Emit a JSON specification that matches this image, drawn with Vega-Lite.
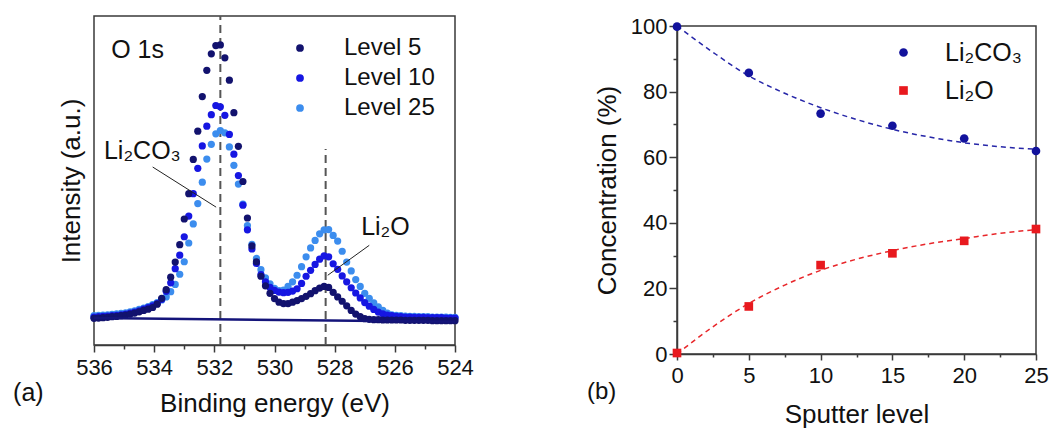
{
  "$schema": "https://vega.github.io/schema/vega-lite/v6.json",
  "padding": {"left": 12, "top": 14, "right": 0, "bottom": 0},
  "background": "white",
  "resolve": {"scale": {"color": "independent", "shape": "independent"}, "legend": {"color": "independent", "shape": "independent"}},
  "config": {
    "font": "Liberation Sans",
    "view": {"stroke": "#3a3a3a", "strokeWidth": 1.5},
    "axis": {
      "labelFont": "Liberation Sans", "titleFont": "Liberation Sans",
      "labelFontSize": 22, "titleFontSize": 26, "titleFontWeight": "normal",
      "labelColor": "#111", "titleColor": "#111",
      "domainColor": "#3a3a3a", "tickColor": "#3a3a3a", "domainWidth": 1.5, "tickWidth": 1.5,
      "grid": false, "labelFlush": false, "labelOverlap": false
    },
    "legend": {"labelFont": "Liberation Sans", "labelColor": "#111"},
    "text": {"font": "Liberation Sans", "color": "#111"}
  },
  "datasets": {
    "xps": [
      {"e":536.00,"Level 5":8.1,"Level 10":8.5,"Level 25":8.9},
      {"e":535.85,"Level 5":8.2,"Level 10":8.6,"Level 25":9.0},
      {"e":535.70,"Level 5":8.3,"Level 10":8.7,"Level 25":9.1},
      {"e":535.55,"Level 5":8.4,"Level 10":8.8,"Level 25":9.2},
      {"e":535.40,"Level 5":8.6,"Level 10":8.9,"Level 25":9.3},
      {"e":535.25,"Level 5":8.7,"Level 10":9.0,"Level 25":9.5},
      {"e":535.10,"Level 5":8.9,"Level 10":9.2,"Level 25":9.6},
      {"e":534.95,"Level 5":9.1,"Level 10":9.4,"Level 25":9.8},
      {"e":534.80,"Level 5":9.4,"Level 10":9.7,"Level 25":10.1},
      {"e":534.65,"Level 5":9.7,"Level 10":10.0,"Level 25":10.4},
      {"e":534.50,"Level 5":10.1,"Level 10":10.4,"Level 25":10.8},
      {"e":534.35,"Level 5":10.5,"Level 10":10.9,"Level 25":11.2},
      {"e":534.20,"Level 5":10.9,"Level 10":11.4,"Level 25":11.7},
      {"e":534.05,"Level 5":11.4,"Level 10":11.9,"Level 25":12.3},
      {"e":533.90,"Level 5":12.4,"Level 10":12.6,"Level 25":12.9},
      {"e":533.75,"Level 5":14.2,"Level 10":13.9,"Level 25":13.7},
      {"e":533.60,"Level 5":16.8,"Level 10":16.3,"Level 25":14.6},
      {"e":533.45,"Level 5":20.6,"Level 10":18.9,"Level 25":16.2},
      {"e":533.30,"Level 5":25.2,"Level 10":23.2,"Level 25":18.4},
      {"e":533.15,"Level 5":30.5,"Level 10":27.3,"Level 25":21.5},
      {"e":533.00,"Level 5":38.3,"Level 10":32.9,"Level 25":25.3},
      {"e":532.85,"Level 5":46.0,"Level 10":39.2,"Level 25":31.0},
      {"e":532.70,"Level 5":56.4,"Level 10":46.0,"Level 25":36.8},
      {"e":532.55,"Level 5":65.0,"Level 10":53.7,"Level 25":43.0},
      {"e":532.40,"Level 5":75.5,"Level 10":60.5,"Level 25":49.5},
      {"e":532.25,"Level 5":83.5,"Level 10":66.5,"Level 25":56.5},
      {"e":532.10,"Level 5":88.5,"Level 10":70.0,"Level 25":61.0},
      {"e":531.95,"Level 5":91.0,"Level 10":72.8,"Level 25":64.2},
      {"e":531.80,"Level 5":91.2,"Level 10":72.4,"Level 25":65.2},
      {"e":531.65,"Level 5":87.3,"Level 10":69.8,"Level 25":64.5},
      {"e":531.50,"Level 5":80.5,"Level 10":64.0,"Level 25":60.2},
      {"e":531.35,"Level 5":70.6,"Level 10":58.0,"Level 25":54.6},
      {"e":531.20,"Level 5":60.4,"Level 10":51.5,"Level 25":48.9},
      {"e":531.05,"Level 5":49.7,"Level 10":42.5,"Level 25":42.8},
      {"e":530.90,"Level 5":38.6,"Level 10":35.0,"Level 25":36.3},
      {"e":530.75,"Level 5":30.1,"Level 10":29.2,"Level 25":30.6},
      {"e":530.60,"Level 5":25.3,"Level 10":24.8,"Level 25":26.3},
      {"e":530.45,"Level 5":20.9,"Level 10":21.4,"Level 25":22.9},
      {"e":530.30,"Level 5":18.0,"Level 10":19.2,"Level 25":20.4},
      {"e":530.15,"Level 5":15.7,"Level 10":17.5,"Level 25":18.6},
      {"e":530.00,"Level 5":14.1,"Level 10":16.6,"Level 25":17.2},
      {"e":529.85,"Level 5":13.0,"Level 10":16.1,"Level 25":16.5},
      {"e":529.70,"Level 5":12.6,"Level 10":15.9,"Level 25":16.7},
      {"e":529.55,"Level 5":12.6,"Level 10":16.0,"Level 25":17.8},
      {"e":529.40,"Level 5":13.0,"Level 10":16.4,"Level 25":19.2},
      {"e":529.25,"Level 5":13.5,"Level 10":17.1,"Level 25":21.2},
      {"e":529.10,"Level 5":14.1,"Level 10":18.7,"Level 25":23.8},
      {"e":528.95,"Level 5":14.8,"Level 10":20.9,"Level 25":26.8},
      {"e":528.80,"Level 5":15.6,"Level 10":22.7,"Level 25":29.5},
      {"e":528.65,"Level 5":16.5,"Level 10":24.5,"Level 25":31.8},
      {"e":528.50,"Level 5":17.3,"Level 10":26.1,"Level 25":33.8},
      {"e":528.35,"Level 5":17.8,"Level 10":27.1,"Level 25":35.0},
      {"e":528.20,"Level 5":17.5,"Level 10":26.8,"Level 25":35.1},
      {"e":528.05,"Level 5":16.0,"Level 10":24.7,"Level 25":33.3},
      {"e":527.90,"Level 5":14.6,"Level 10":23.0,"Level 25":31.6},
      {"e":527.75,"Level 5":13.3,"Level 10":21.0,"Level 25":28.5},
      {"e":527.60,"Level 5":11.9,"Level 10":19.2,"Level 25":25.2},
      {"e":527.45,"Level 5":10.5,"Level 10":17.4,"Level 25":22.5},
      {"e":527.30,"Level 5":9.4,"Level 10":15.8,"Level 25":19.9},
      {"e":527.15,"Level 5":8.6,"Level 10":14.3,"Level 25":17.8},
      {"e":527.00,"Level 5":8.0,"Level 10":12.9,"Level 25":15.7},
      {"e":526.85,"Level 5":7.8,"Level 10":11.8,"Level 25":14.2},
      {"e":526.70,"Level 5":7.7,"Level 10":10.8,"Level 25":12.8},
      {"e":526.55,"Level 5":7.7,"Level 10":10.0,"Level 25":11.6},
      {"e":526.40,"Level 5":7.6,"Level 10":9.5,"Level 25":10.5},
      {"e":526.25,"Level 5":7.6,"Level 10":9.1,"Level 25":9.7},
      {"e":526.10,"Level 5":7.6,"Level 10":8.9,"Level 25":9.2},
      {"e":525.95,"Level 5":7.6,"Level 10":8.7,"Level 25":9.0},
      {"e":525.80,"Level 5":7.6,"Level 10":8.6,"Level 25":8.9},
      {"e":525.65,"Level 5":7.5,"Level 10":8.5,"Level 25":8.8},
      {"e":525.50,"Level 5":7.5,"Level 10":8.5,"Level 25":8.7},
      {"e":525.35,"Level 5":7.5,"Level 10":8.4,"Level 25":8.7},
      {"e":525.20,"Level 5":7.5,"Level 10":8.4,"Level 25":8.6},
      {"e":525.05,"Level 5":7.5,"Level 10":8.4,"Level 25":8.6},
      {"e":524.90,"Level 5":7.5,"Level 10":8.3,"Level 25":8.6},
      {"e":524.75,"Level 5":7.4,"Level 10":8.3,"Level 25":8.5},
      {"e":524.60,"Level 5":7.4,"Level 10":8.3,"Level 25":8.5},
      {"e":524.45,"Level 5":7.4,"Level 10":8.3,"Level 25":8.5},
      {"e":524.30,"Level 5":7.4,"Level 10":8.2,"Level 25":8.5},
      {"e":524.15,"Level 5":7.4,"Level 10":8.2,"Level 25":8.4},
      {"e":524.00,"Level 5":7.4,"Level 10":8.2,"Level 25":8.4}
    ],
    "bg": [{"e":536,"v":8.2},{"e":524,"v":7.1}],
    "peaks": [{"e":531.8,"v":0,"v2":100},{"e":528.3,"v":0,"v2":59.6}],
    "leaders": [{"e":534.05,"v":54.1,"e2":531.94,"v2":41.9},{"e":526.85,"v":30.3,"e2":528.23,"v2":21.2}],
    "labelsA": [
      {"e":535.43,"v":87.3,"t":"O 1s"},
      {"e":535.67,"v":56.6,"t":"Li₂CO₃"},
      {"e":527.12,"v":33.5,"t":"Li₂O"},
      {"e":538.69,"v":-17.1,"t":"(a)"}
    ],
    "conc": [
      {"s":0,"c":99.8,"sp":"Li₂CO₃"},
      {"s":5,"c":85.7,"sp":"Li₂CO₃"},
      {"s":10,"c":73.3,"sp":"Li₂CO₃"},
      {"s":15,"c":69.6,"sp":"Li₂CO₃"},
      {"s":20,"c":65.7,"sp":"Li₂CO₃"},
      {"s":25,"c":61.9,"sp":"Li₂CO₃"},
      {"s":0,"c":0.3,"sp":"Li₂O"},
      {"s":5,"c":14.5,"sp":"Li₂O"},
      {"s":10,"c":27.1,"sp":"Li₂O"},
      {"s":15,"c":30.7,"sp":"Li₂O"},
      {"s":20,"c":34.5,"sp":"Li₂O"},
      {"s":25,"c":38.1,"sp":"Li₂O"}
    ],
    "fitA": [
      {"s":0,"c":100},{"s":2.5,"c":92},{"s":5,"c":84.8},{"s":7.5,"c":79.5},{"s":10,"c":75.1},
      {"s":12.5,"c":71.5},{"s":15,"c":68.5},{"s":17.5,"c":66.2},{"s":20,"c":64.4},{"s":22.5,"c":63.2},{"s":25,"c":62.4}
    ],
    "fitB": [
      {"s":0,"c":0},{"s":2.5,"c":8.3},{"s":5,"c":15.4},{"s":7.5,"c":21},{"s":10,"c":25.5},
      {"s":12.5,"c":28.9},{"s":15,"c":31.5},{"s":17.5,"c":33.6},{"s":20,"c":35.2},{"s":22.5,"c":36.8},{"s":25,"c":37.9}
    ],
    "labelsB": [{"s":-6.27,"c":-13.7,"t":"(b)"}],
    "blank": [{"t":""}]
  },
  "spacing": 111,
  "hconcat": [
    {
      "width": 361,
      "height": 329,
      "encoding": {
        "x": {
          "field": "e", "type": "quantitative",
          "scale": {"domain": [524, 536], "reverse": true, "nice": false, "zero": false},
          "axis": {
            "title": "Binding energy (eV)",
            "values": [524,525,526,527,528,529,530,531,532,533,534,535,536],
            "labelExpr": "datum.value % 2 === 0 ? datum.label : ''",
            "tickSize": {"condition": {"test": "datum.value % 2 !== 0", "value": 4}, "value": 7},
            "labelPadding": 5, "titlePadding": 12
          }
        },
        "y": {
          "field": "v", "type": "quantitative",
          "scale": {"domain": [0, 100], "nice": false, "zero": false},
          "axis": {"title": "Intensity (a.u.)", "labels": false, "ticks": false, "domain": false, "titlePadding": 10}
        }
      },
      "layer": [
        {
          "data": {"name": "peaks"},
          "mark": {"type": "rule", "color": "#555", "strokeWidth": 2, "strokeDash": [8, 5]},
          "encoding": {"y2": {"field": "v2"}}
        },
        {
          "data": {"name": "xps"},
          "transform": [{"fold": ["Level 25"], "as": ["key", "v"]}],
          "mark": {"type": "point", "filled": true, "size": 52, "opacity": 1, "strokeWidth": 0},
          "encoding": {
            "color": {
              "field": "key", "type": "nominal",
              "scale": {"domain": ["Level 5", "Level 10", "Level 25"], "range": ["#12126e", "#1616e2", "#3c8dee"]},
              "legend": {"title": null, "orient": "top-right", "offset": 20, "labelFontSize": 24, "symbolSize": 60, "symbolType": "circle", "labelOffset": 32, "rowPadding": 6, "symbolStrokeWidth": 0}
            }
          }
        },
        {
          "data": {"name": "xps"},
          "transform": [{"fold": ["Level 10"], "as": ["key", "v"]}],
          "mark": {"type": "point", "filled": true, "size": 52, "opacity": 1, "strokeWidth": 0},
          "encoding": {"color": {"field": "key", "type": "nominal"}}
        },
        {
          "data": {"name": "xps"},
          "transform": [{"fold": ["Level 5"], "as": ["key", "v"]}],
          "mark": {"type": "point", "filled": true, "size": 52, "opacity": 1, "strokeWidth": 0},
          "encoding": {"color": {"field": "key", "type": "nominal"}}
        },
        {
          "data": {"name": "bg"},
          "mark": {"type": "line", "color": "#14147a", "strokeWidth": 2.5},
          "encoding": {}
        },
        {
          "data": {"name": "leaders"},
          "mark": {"type": "rule", "color": "#222", "strokeWidth": 1},
          "encoding": {"x2": {"field": "e2"}, "y2": {"field": "v2"}}
        },
        {
          "data": {"name": "labelsA"},
          "mark": {"type": "text", "align": "left", "baseline": "alphabetic", "fontSize": 25},
          "encoding": {"text": {"field": "t"}}
        }
      ]
    },
    {
      "spacing": 0,
      "bounds": "flush",
      "resolve": {"scale": {"color": "independent", "shape": "independent"}, "legend": {"color": "independent", "shape": "independent"}},
      "vconcat": [
        {
          "width": 359,
          "height": 10,
          "view": {"stroke": null},
          "data": {"name": "blank"},
          "mark": {"type": "text"},
          "encoding": {"text": {"field": "t"}}
        },
        {
          "width": 359,
          "height": 328,
          "encoding": {
            "x": {
              "field": "s", "type": "quantitative",
              "scale": {"domain": [0, 25], "nice": false},
              "axis": {
                "title": "Sputter level",
                "values": [0,2.5,5,7.5,10,12.5,15,17.5,20,22.5,25],
                "labelExpr": "datum.value % 5 === 0 ? datum.label : ''",
                "tickSize": {"condition": {"test": "datum.value % 5 !== 0", "value": 3}, "value": 6},
                "labelPadding": 5, "titlePadding": 15
              }
            },
            "y": {
              "field": "c", "type": "quantitative",
              "scale": {"domain": [0, 100], "nice": false},
              "axis": {
                "title": "Concentration (%)",
                "values": [0,10,20,30,40,50,60,70,80,90,100],
                "labelExpr": "datum.value % 20 === 0 ? datum.label : ''",
                "tickSize": {"condition": {"test": "datum.value % 20 !== 0", "value": 4}, "value": 8},
                "labelPadding": 2, "titlePadding": 10
              }
            }
          },
          "layer": [
            {
              "data": {"name": "fitA"},
              "mark": {"type": "line", "color": "#2626a8", "strokeWidth": 1.5, "strokeDash": [5, 4], "interpolate": "monotone"},
              "encoding": {}
            },
            {
              "data": {"name": "fitB"},
              "mark": {"type": "line", "color": "#e8262a", "strokeWidth": 1.5, "strokeDash": [5, 4], "interpolate": "monotone"},
              "encoding": {}
            },
            {
              "data": {"name": "conc"},
              "mark": {"type": "point", "filled": true, "size": 75, "opacity": 1, "strokeWidth": 0, "clip": false},
              "encoding": {
                "color": {
                  "field": "sp", "type": "nominal",
                  "scale": {"domain": ["Li₂CO₃", "Li₂O"], "range": ["#12129c", "#e8191e"]},
                  "legend": {"title": null, "orient": "top-right", "offset": 14, "labelFontSize": 25, "symbolSize": 75, "labelOffset": 29, "rowPadding": 12, "symbolStrokeWidth": 0}
                },
                "shape": {
                  "field": "sp", "type": "nominal",
                  "scale": {"domain": ["Li₂CO₃", "Li₂O"], "range": ["circle", "square"]},
                  "legend": {"title": null, "orient": "top-right", "offset": 14, "labelFontSize": 25, "symbolSize": 75, "labelOffset": 29, "rowPadding": 12, "symbolStrokeWidth": 0}
                }
              }
            },
            {
              "data": {"name": "labelsB"},
              "mark": {"type": "text", "align": "left", "baseline": "alphabetic", "fontSize": 24},
              "encoding": {"text": {"field": "t"}}
            }
          ]
        }
      ]
    }
  ]
}
